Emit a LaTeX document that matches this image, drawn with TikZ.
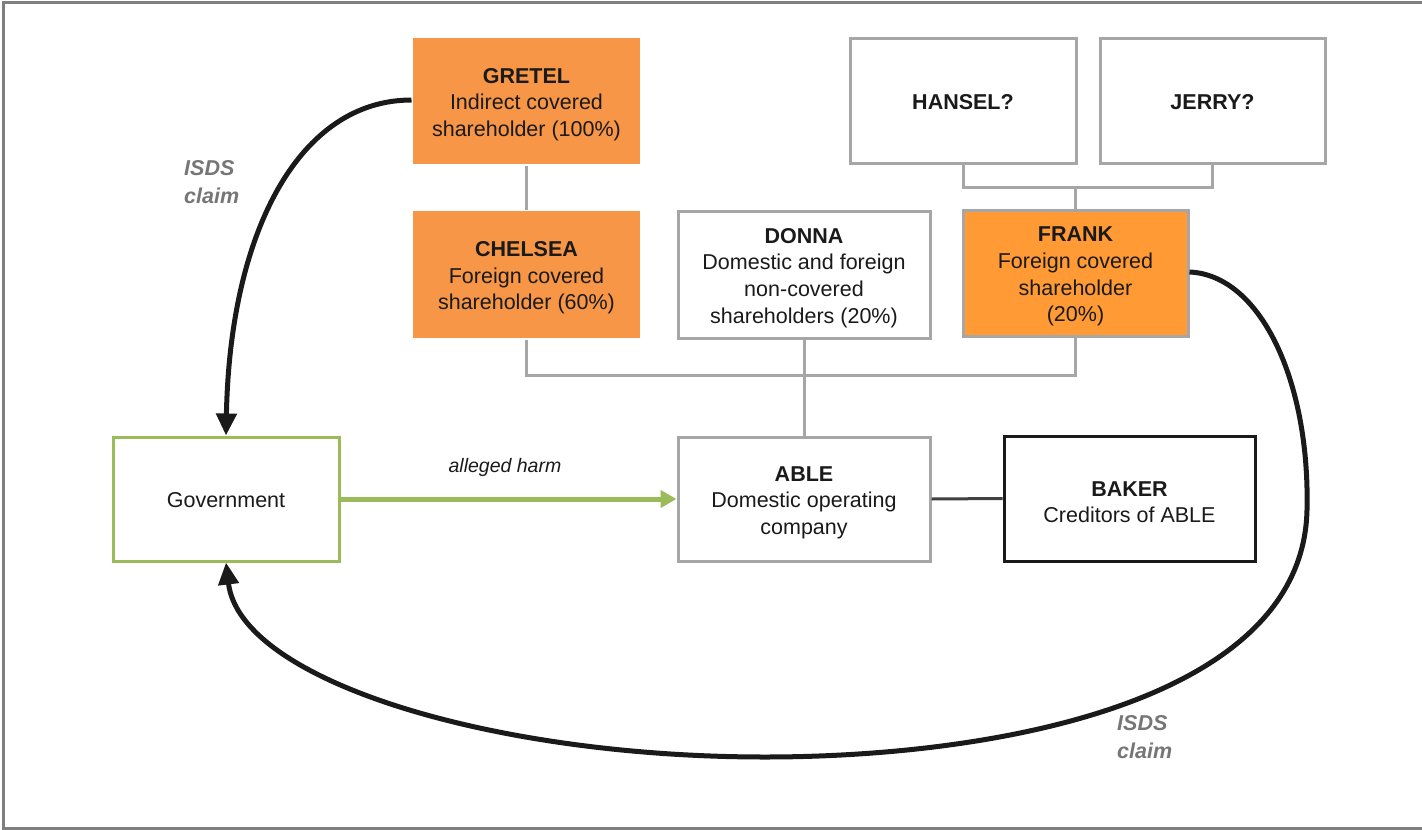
\documentclass[tikz,border=0pt]{standalone}
\usepackage{fontspec}
\setmainfont{Liberation Sans}
\usetikzlibrary{arrows.meta}
\definecolor{orA}{HTML}{F79646}
\definecolor{orB}{HTML}{FF9A35}
\definecolor{gbord}{HTML}{A6A6A6}
\definecolor{grn}{HTML}{9BBB59}
\definecolor{txt}{HTML}{1A1A1A}
\definecolor{isds}{HTML}{767676}
\definecolor{frame}{HTML}{7F7F7F}
\definecolor{dk}{HTML}{404040}
\newcommand{\boxtitle}[1]{\rule{0pt}{22pt}\textbf{#1}}
\newcommand{\oneline}[1]{\rule{0pt}{18pt}#1}
\tikzset{
  box/.style={rectangle, align=center, text=txt, inner sep=0pt,
    font=\fontsize{21.5}{26.7}\selectfont, line width=3pt},
  graybox/.style={box, draw=gbord, fill=white},
  orangebox/.style={box, draw=none, fill=orA},
  frankbox/.style={box, draw=gbord, fill=orB},
  govbox/.style={box, draw=grn, fill=white},
  blackbox/.style={box, draw=txt, fill=white},
  conn/.style={draw=gbord, line width=3pt},
  claim/.style={draw=txt, line width=5pt, -{Triangle[length=22pt,width=20pt]}},
  harm/.style={draw=grn, line width=5pt, -{Triangle[length=16pt,width=17pt]}},
  claimlbl/.style={text=isds, align=left, anchor=west, inner sep=0pt,
    font=\fontsize{21.5}{27.5}\selectfont\bfseries\itshape},
  harmlbl/.style={text=txt, inner sep=0pt, font=\fontsize{19.5}{24}\selectfont\itshape}
}
\begin{document}
\begin{tikzpicture}[x=1pt,y=-1pt]
\useasboundingbox (0,0) rectangle (1422,830);
\fill[white] (0,0) rectangle (1422,830);
\draw[frame, line width=3pt] (1422,2) -- (3,2) -- (3,828) -- (1422,828);

% nodes
\node[orangebox, minimum width=227pt, minimum height=126pt] (gretel) at (526.5,101)
  {\boxtitle{GRETEL}\\Indirect covered\\shareholder (100\%)};
\node[orangebox, minimum width=227pt, minimum height=127pt] (chelsea) at (526.5,274.5)
  {\boxtitle{CHELSEA}\\Foreign covered\\shareholder (60\%)};
\node[graybox, minimum width=252pt, minimum height=127pt] (donna) at (804,274.5)
  {\boxtitle{DONNA}\\Domestic and foreign\\non-covered\\shareholders (20\%)};
\node[frankbox, minimum width=225pt, minimum height=126pt] (frank) at (1075.5,273)
  {\boxtitle{FRANK}\\Foreign covered\\shareholder\\(20\%)};
\node[graybox, minimum width=226pt, minimum height=125pt] (hansel) at (963,100.5)
  {\oneline{\textbf{HANSEL?}}};
\node[graybox, minimum width=225pt, minimum height=125pt] (jerry) at (1212.5,100.5)
  {\oneline{\textbf{JERRY?}}};
\node[govbox, minimum width=226pt, minimum height=124pt] (gov) at (226,499)
  {\oneline{Government}};
\node[graybox, minimum width=252pt, minimum height=124pt] (able) at (804,499)
  {\boxtitle{ABLE}\\Domestic operating\\company};
\node[blackbox, minimum width=251pt, minimum height=125pt] (baker) at (1129.5,498.5)
  {\boxtitle{BAKER}\\Creditors of ABLE};

% ownership connectors
\draw[conn] (gretel.south) -- (chelsea.north);
\coordinate (hj) at (1075.5,187);
\draw[conn] (hansel.south) -- (hansel.south |- hj) -- (jerry.south |- hj) -- (jerry.south);
\draw[conn] (hj) -- (frank.north);
\coordinate (bus) at (804,375);
\draw[conn] (chelsea.south) -- (chelsea.south |- bus) -- (frank.south |- bus) -- (frank.south);
\draw[conn] (donna.south) -- (able.north);
\draw[draw=dk, line width=3pt] (able.east) -- (baker.west);

% alleged harm
\draw[harm] (gov.east) -- (able.west);
\node[harmlbl] (harmlabel) at (505,467) {alleged harm};

% ISDS claims
\coordinate (g1) at (gretel.west |- 0,100);
\draw[claim] (g1) .. controls (300,100) and (230,230) .. (gov.north);
\node[claimlbl] (claim1) at (184,182) {ISDS\\claim};

\coordinate (f1) at (frank.east |- 0,272);
\coordinate (m1) at (1307,510);
\coordinate (m2) at (765,757);
\draw[claim] (f1) .. controls (1260,275) and (1310,380) .. (m1)
  .. controls (1303,700) and (1000,757) .. (m2)
  .. controls (490,757) and (240,680) .. (gov.south);
\node[claimlbl] (claim2) at (1117,737) {ISDS\\claim};
\end{tikzpicture}
\end{document}
